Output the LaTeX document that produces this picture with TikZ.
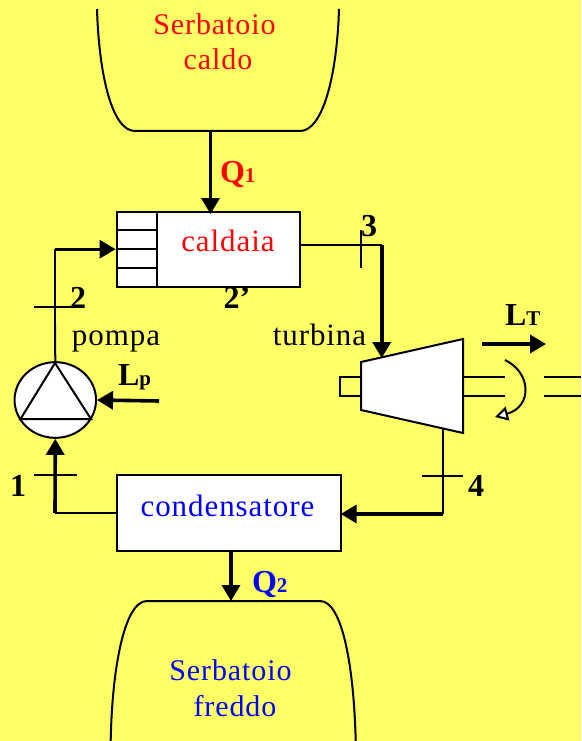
\documentclass[tikz,border=0pt]{standalone}
\usepackage{fontspec}
\setmainfont{Liberation Serif}
\newfontfamily\spaced[LetterSpace=3]{Liberation Serif}
\usetikzlibrary{arrows.meta,shapes.geometric}
\definecolor{bgyellow}{HTML}{FFFF66}
\definecolor{hotred}{HTML}{FF0000}
\definecolor{coldblue}{HTML}{0000FF}
\tikzset{
  thinline/.style={draw=black,line width=2pt},
  thickline/.style={draw=black,line width=3.6pt},
  flow/.style={thickline,-{Triangle[length=16pt,width=18pt]}},
  boxnode/.style={draw=black,line width=2pt,fill=white,rectangle,inner sep=0pt},
  lab/.style={anchor=base,inner sep=0pt,outer sep=0pt,font=\fontsize{31}{31}\spaced},
  tanklab/.style={anchor=base,inner sep=0pt,outer sep=0pt,font=\fontsize{30}{30}\spaced},
  num/.style={anchor=base,inner sep=0pt,outer sep=0pt,font=\fontsize{32}{32}\bfseries},
  subs/.style={anchor=base west,inner sep=0pt,outer sep=0pt,font=\fontsize{21}{21}\bfseries},
}
\begin{document}
\begin{tikzpicture}[x=1pt,y=-1pt]
\useasboundingbox (0,0) rectangle (581,741);
\fill[bgyellow] (0,0) rectangle (581,741);
% tanks
\draw[thinline] (97,9) .. controls (99,75) and (112,131) .. (135,131) -- (300,131) .. controls (323,131) and (337,75) .. (339,9);
\draw[thinline] (110.7,741) .. controls (112,670) and (124,601) .. (147,601) -- (320,601) .. controls (343,601) and (354,670) .. (355.7,741);
\coordinate (hot) at (210.5,131);
\coordinate (cold) at (231,601);
\node[tanklab,text=hotred] at (214.5,35) {Serbatoio};
\node[tanklab,text=hotred] at (218,70) {caldo};
\node[tanklab,text=coldblue] at (230.5,680) {Serbatoio};
\node[tanklab,text=coldblue] at (235,716) {freddo};
% boiler
\node[boxnode,minimum width=183.3pt,minimum height=75pt] (caldaia) at (208.3,249.2) {};
\coordinate (divT) at (157,211.7);
\coordinate (divB) at (157,286.7);
\draw[thinline] (divT) -- (divB);
\draw[thinline] (116.7,230) -- (157,230);
\draw[thinline] (116.7,249.2) -- (157,249.2);
\draw[thinline] (116.7,268) -- (157,268);
\node[lab,text=hotred] at (228,251) {caldaia};
% condenser
\node[boxnode,minimum width=224pt,minimum height=75.4pt] (cond) at (228.7,513) {};
\node[lab,text=coldblue] at (227.5,516) {condensatore};
% pump
\node[draw=black,line width=2pt,fill=white,ellipse,minimum width=81.5pt,minimum height=75.7pt,inner sep=0pt] (pump) at (55.3,400) {};
\coordinate (triT) at (55,363);
\coordinate (triL) at (20.5,419);
\coordinate (triR) at (91,419);
\draw[thinline,line join=miter] (triT) -- (triL) -- (triR) -- cycle;
\node[lab,text=black] at (116,345) {pompa};
% turbine
\coordinate (tA) at (361,362);
\coordinate (tB) at (463,339);
\coordinate (tC) at (463,433);
\coordinate (tD) at (361,410);
\draw[thinline] (361,377) -- (340,377) -- (340,396) -- (361,396);
\draw[thinline,fill=white] (tA) -- (tB) -- (tC) -- (tD) -- cycle;
\node[lab,text=black] at (319.5,345) {turbina};
\coordinate (tIn) at (381.7,358);
\coordinate (tOut) at (442.7,429);
% shaft
\coordinate (sA) at (463,377);
\coordinate (sB) at (505,377);
\coordinate (sC) at (463,396);
\coordinate (sD) at (505,396);
\coordinate (sE) at (544,377);
\coordinate (sF) at (581,377);
\coordinate (sG) at (544,396);
\coordinate (sH) at (581,396);
\draw[thinline] (sA) -- (sB) (sC) -- (sD) (sE) -- (sF) (sG) -- (sH);
\coordinate (rotS) at (505,360);
\coordinate (rotE) at (495,417);
\draw[thinline,-{Triangle[open,fill=white,length=13pt,width=14pt]}] (rotS) .. controls (532,373) and (532,407) .. (rotE);
% work arrows
\coordinate (ltS) at (482,344);
\coordinate (ltE) at (546,344);
\draw[flow] (ltS) -- (ltE);
\coordinate (lpS) at (159,401);
\draw[flow] (lpS) -- (pump.east);
% connectors
\draw[flow] (hot) -- (210.5,214);
\coordinate (p2) at (55,325);
\coordinate (c2) at (55,249.2);
\draw[thinline] (pump.north) -- (p2);
\draw[thickline,line width=2.8pt] (p2) -- (c2);
\draw[flow,line width=2.8pt] (c2) -- (caldaia.west);
\coordinate (c3) at (381.7,244.5);
\coordinate (c3w) at (300,244.5);
\draw[thinline] (c3w) -- (c3);
\draw[flow] (c3) -- (tIn);
\coordinate (c4) at (442.7,514);
\draw[thinline] (tOut) -- (c4);
\coordinate (condE) at (340.7,514);
\draw[flow] (c4) -- (condE);
\coordinate (c1) at (55,513);
\coordinate (condW) at (116.7,513);
\draw[thinline] (condW) -- (c1);
\draw[flow] (c1) -- (pump.south);
\draw[flow] (231,551) -- (cold);
% station ticks
\draw[thinline] (34,307) -- (73,307);
\draw[thinline] (34,475) -- (77,475);
\draw[thinline] (361,230) -- (361,268);
\draw[thinline] (422,476) -- (463,476);
% numbers
\node[num] at (78,308) {2};
\node[num] at (237,308) {2’};
\node[num] at (369,236) {3};
\node[num] at (476,496) {4};
\node[num] at (18,496) {1};
% quantities
\node[num,anchor=base west] (lp) at (118,385) {L};
\node[subs] at (lp.base east) {p};
\node[num,anchor=base west] (lt) at (505,325) {L};
\node[subs] at (lt.base east) {T};
\node[num,anchor=base west,text=hotred] (q1) at (220,182) {Q};
\node[subs,text=hotred] at (q1.base east) {1};
\node[num,anchor=base west,text=coldblue] (q2) at (252,592) {Q};
\node[subs,text=coldblue] at (q2.base east) {2};
\end{tikzpicture}
\end{document}
